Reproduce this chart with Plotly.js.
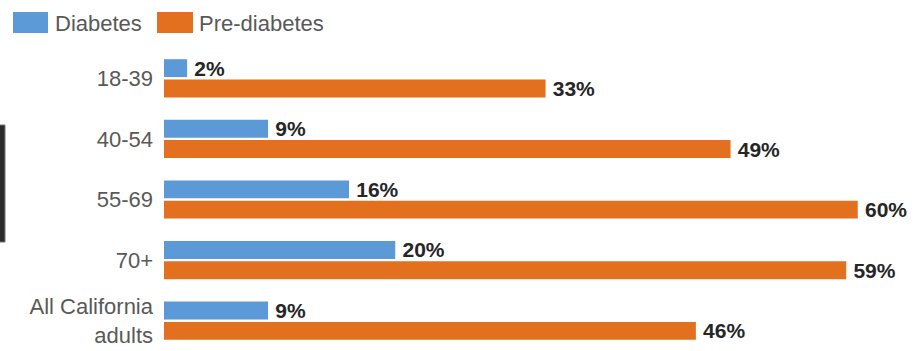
<!DOCTYPE html>
<html>
<head>
<meta charset="utf-8">
<script src="https://cdn.plot.ly/plotly-3.0.1.min.js"></script>
<style>html,body{margin:0;padding:0;background:#fff;}#chart{width:913px;height:351px;}</style>
</head>
<body>
<div id="chart"></div>
<script>
const categories = ["18-39", "40-54", "55-69", "70+", "All California<br>adults"];
const diabetes = [2, 9, 16, 20, 9];
const preDiabetes = [33, 49, 60, 59, 46];
const seriesNames = ["Diabetes", "Pre-diabetes"];
const colors = ["#5b9ad6", "#e2701f"];

const FONT = '"Liberation Sans", Arial, sans-serif';

function barTrace(name, values, color) {
  return {
    type: 'bar', orientation: 'h', name: name,
    y: categories, x: values,
    marker: {color: color},
    text: values.map(v => '\u2009' + v + '%'),
    textposition: 'outside',
    constraintext: 'none',
    cliponaxis: false,
    textfont: {family: FONT, size: 21, color: '#262626', weight: 'bold'},
    hoverinfo: 'skip',
    showlegend: false
  };
}

const data = [
  barTrace(seriesNames[0], diabetes, colors[0]),
  barTrace(seriesNames[1], preDiabetes, colors[1])
];

// custom legend (large swatches) built from series names/colors
const legendX = [[-151, -116, -111], [-7, 29, 33]];
const shapes = [];
const annotations = [];
seriesNames.forEach((n, i) => {
  shapes.push({type: 'rect', xref: 'paper', yref: 'paper', xsizemode: 'pixel', ysizemode: 'pixel',
    xanchor: 0, yanchor: 1, x0: legendX[i][0], x1: legendX[i][1], y0: 15, y1: 36,
    fillcolor: colors[i], line: {width: 0}});
  annotations.push({xref: 'paper', yref: 'paper', x: 0, y: 1, xanchor: 'left', yanchor: 'middle',
    xshift: legendX[i][2], yshift: 25, text: n, showarrow: false,
    font: {family: FONT, size: 22, color: '#595959'}});
});
// dark edge artifact at left
shapes.push({type: 'rect', xref: 'paper', yref: 'paper', xsizemode: 'pixel', ysizemode: 'pixel',
  xanchor: 0, yanchor: 1, x0: -170, x1: -159, y0: -77, y1: -194,
  fillcolor: '#2b2b2b', line: {color: '#777', width: 1}});

const layout = {
  width: 913, height: 351,
  margin: {l: 164, r: 9, t: 48, b: 0, pad: 0},
  paper_bgcolor: '#fff', plot_bgcolor: '#fff',
  barmode: 'group', bargap: 0.33, bargroupgap: 0.12,
  showlegend: false,
  xaxis: {range: [0, 64], visible: false, fixedrange: true},
  yaxis: {type: 'category', autorange: 'reversed', showgrid: false, zeroline: false, showline: false,
    ticks: '', ticklabelstandoff: 10,
    tickfont: {family: FONT, size: 22, color: '#595959'}},
  shapes: shapes,
  annotations: annotations,
  font: {family: FONT}
};

Plotly.newPlot('chart', data, layout, {staticPlot: true, displayModeBar: false});
</script>
</body>
</html>
